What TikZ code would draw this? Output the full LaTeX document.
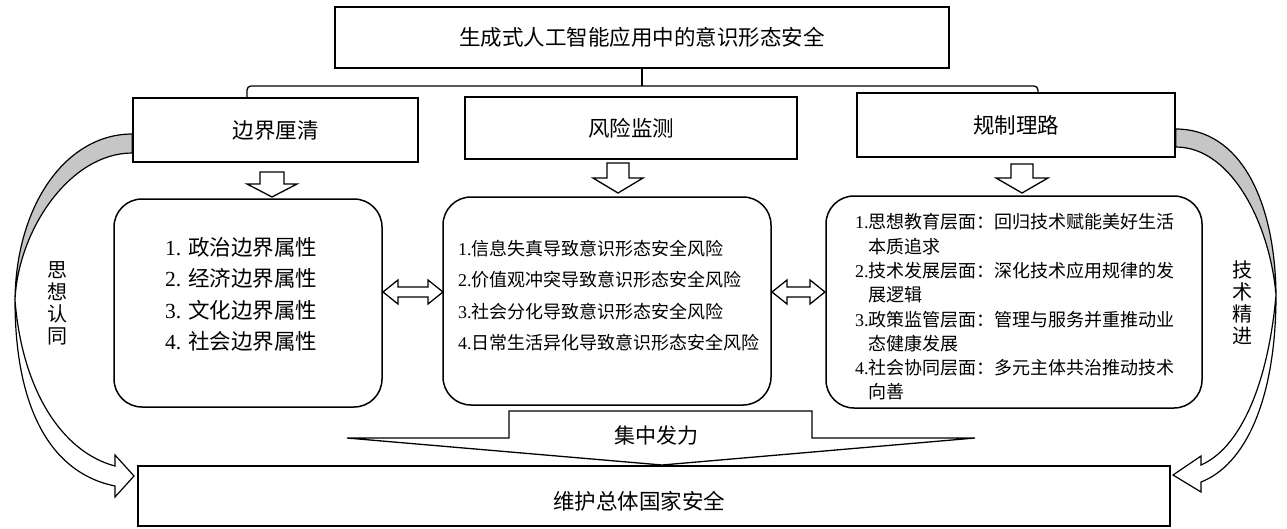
\documentclass[tikz,border=0pt]{standalone}
\usepackage{fontspec}
\setmainfont{Liberation Serif}
\newfontfamily\cjk{Noto Sans CJK SC}
\begin{document}
\begin{tikzpicture}[x=1pt,y=-1pt,line join=miter]
\tikzset{
  box/.style={draw,line width=1.5pt,rectangle,inner sep=0pt,font=\cjk\fontsize{21.5}{26}\selectfont},
  rbox/.style={draw,line width=1.5pt,rounded corners=28pt,inner sep=0pt},
  blk/.style={draw,line width=1.3pt,fill=white},
  conn/.style={draw,line width=1.3pt},
  shade/.style={draw,line width=1.2pt,fill=gray!45},
  txt/.style={inner sep=0pt,align=left,anchor=west},
  vtxt/.style={inner sep=0pt,align=center,font=\cjk\fontsize{20}{22}\selectfont},
}
\useasboundingbox (0,0) rectangle (1287,528);
\fill[white] (0,0) rectangle (1287,528);

% main boxes
\node[box,minimum width=614pt,minimum height=61pt] (top) at (642,37.5) {生成式人工智能应用中的意识形态安全};
\node[box,minimum width=285pt,minimum height=64pt] (b1) at (275.5,130) {边界厘清};
\node[box,minimum width=332pt,minimum height=62pt] (b2) at (631,128) {风险监测};
\node[box,minimum width=318pt,minimum height=64pt] (b3) at (1016,125) {规制理路};

% bracket connector
\coordinate (bl) at (247,86);
\coordinate (br) at (1038,86);
\draw[conn] (top.south) -- (top.south |- bl);
\draw[conn,rounded corners=4pt] (bl |- b1.north) |- (br) -- (br |- b3.north);

% rounded content boxes
\node[rbox,minimum width=268pt,minimum height=208pt] (r1) at (248,303) {};
\node[rbox,minimum width=328pt,minimum height=208pt] (r2) at (607,301) {};
\node[rbox,minimum width=376pt,minimum height=212pt] (r3) at (1014,302) {};

\node[txt,font=\fontsize{21.5}{31.5}\selectfont] (t1) at (165,294.5)
  {1. {\cjk 政治边界属性}\\2. {\cjk 经济边界属性}\\3. {\cjk 文化边界属性}\\4. {\cjk 社会边界属性}};
\node[txt,font=\fontsize{18}{31.5}\selectfont] (t2) at (458,295.5)
  {1.{\cjk 信息失真导致意识形态安全风险}\\2.{\cjk 价值观冲突导致意识形态安全风险}\\3.{\cjk 社会分化导致意识形态安全风险}\\4.{\cjk 日常生活异化导致意识形态安全风险}};
\node[txt,font=\fontsize{18}{24.3}\selectfont] (t3) at (855,307)
  {1.{\cjk 思想教育层面：回归技术赋能美好生活}\\\phantom{1.}{\cjk 本质追求}\\
   2.{\cjk 技术发展层面：深化技术应用规律的发}\\\phantom{1.}{\cjk 展逻辑}\\
   3.{\cjk 政策监管层面：管理与服务并重推动业}\\\phantom{1.}{\cjk 态健康发展}\\
   4.{\cjk 社会协同层面：多元主体共治推动技术}\\\phantom{1.}{\cjk 向善}};

% down block arrows
\draw[blk] (260,172) -- (284,172) -- (284,184) -- (297,184) -- (272,197) -- (247,184) -- (260,184) -- cycle;
\draw[blk] (607,163) -- (629,163) -- (629,178) -- (643,178) -- (618,193) -- (593,178) -- (607,178) -- cycle;
\draw[blk] (1011,164) -- (1033,164) -- (1033,178) -- (1048,178) -- (1022,193) -- (996,178) -- (1011,178) -- cycle;

% double arrows
\draw[blk] (383,292) -- (398,280) -- (398,287) -- (428,287) -- (428,280) -- (443,292) -- (428,304) -- (428,297) -- (398,297) -- (398,304) -- cycle;
\draw[blk] (772,292) -- (787,280) -- (787,287) -- (810,287) -- (810,280) -- (825,292) -- (810,304) -- (810,297) -- (787,297) -- (787,304) -- cycle;

% bottom box
\node[box,minimum width=1032pt,minimum height=60pt] (bot) at (654,496) {};
\node[inner sep=0pt,font=\cjk\fontsize{21.5}{26}\selectfont] (bott) at (639,501) {维护总体国家安全};

% converging arrow
\draw[blk] (509,411) -- (812,411) -- (812,438) -- (975,438) -- (662,465) -- (347,438) -- (509,438) -- cycle;
\node[inner sep=0pt,font=\cjk\fontsize{21}{26}\selectfont] (jz) at (656,436) {集中发力};

% left curved arrow
\draw[shade] (b1.west |- 0,134) .. controls (66,134) and (16,205) .. (15,300)
   .. controls (18,230) and (70,153) .. (b1.west |- 0,153) -- cycle;
\draw[blk,line width=1.2pt] (15,300) .. controls (15,415) and (55,474) .. (115,486)
   -- (115,497) -- (134,476) -- (115,455) -- (115,466)
   .. controls (62,452) and (22,390) .. (15,300) -- cycle;
\node[vtxt] (v1) at (57,303.5) {思\\想\\认\\同};

% right curved arrow
\draw[shade] (b3.east |- 0,129) .. controls (1240,129) and (1275,200) .. (1276,295)
   .. controls (1270,225) and (1232,147) .. (b3.east |- 0,147) -- cycle;
\draw[blk,line width=1.2pt] (1276,295) .. controls (1276,400) and (1245,465) .. (1201,482)
   -- (1201,492) -- (1173,475) -- (1201,456) -- (1201,465)
   .. controls (1240,448) and (1268,385) .. (1276,295) -- cycle;
\node[vtxt] (v2) at (1242,303) {技\\术\\精\\进};
\end{tikzpicture}
\end{document}
